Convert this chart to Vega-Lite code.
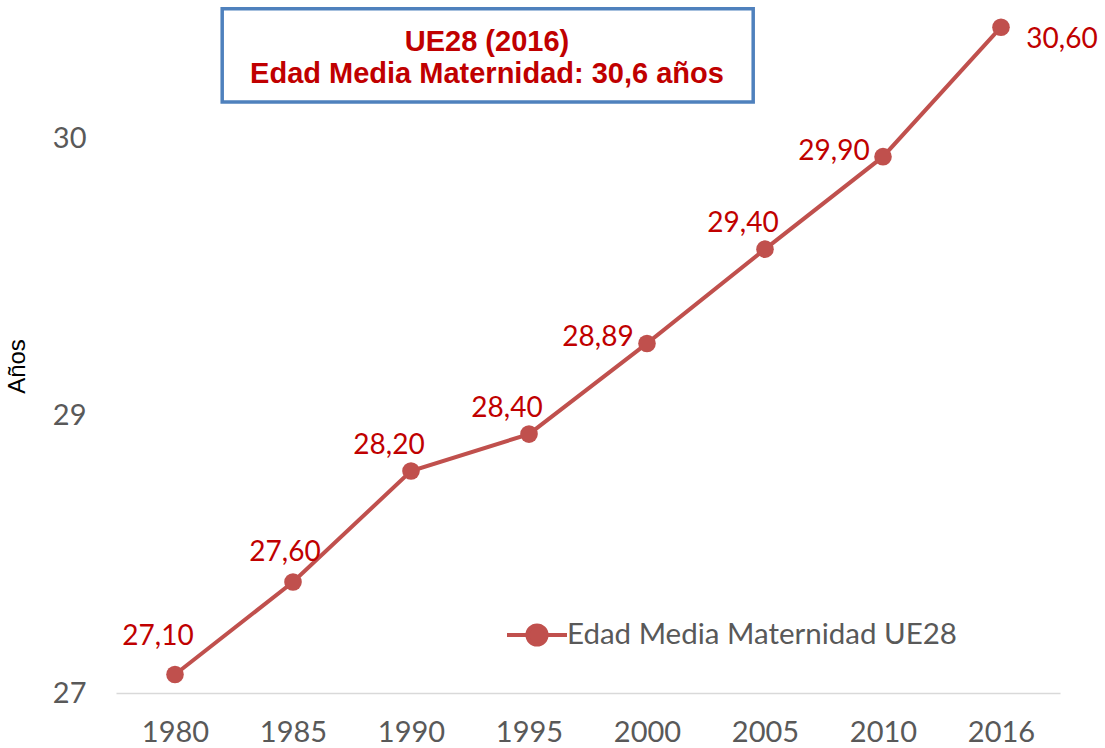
{
  "$schema": "https://vega.github.io/schema/vega-lite/v6.json",
  "width": 944,
  "height": 688,
  "autosize": {"type": "none"},
  "padding": {"left": 116, "top": 5, "right": 45, "bottom": 55},
  "background": "white",
  "config": {
    "view": {"stroke": null},
    "locale": {"number": {"decimal": ",", "thousands": ".", "grouping": [3], "currency": ["", " €"]}},
    "font": "Lato"
  },
  "datasets": {
    "serie": [
      {"year": "1980", "value": 27.10, "serie": "Edad Media Maternidad UE28"},
      {"year": "1985", "value": 27.60, "serie": "Edad Media Maternidad UE28"},
      {"year": "1990", "value": 28.20, "serie": "Edad Media Maternidad UE28"},
      {"year": "1995", "value": 28.40, "serie": "Edad Media Maternidad UE28"},
      {"year": "2000", "value": 28.89, "serie": "Edad Media Maternidad UE28"},
      {"year": "2005", "value": 29.40, "serie": "Edad Media Maternidad UE28"},
      {"year": "2010", "value": 29.90, "serie": "Edad Media Maternidad UE28"},
      {"year": "2016", "value": 30.60, "serie": "Edad Media Maternidad UE28"}
    ]
  },
  "layer": [
    {
      "data": {"name": "serie"},
      "encoding": {
        "x": {
          "field": "year", "type": "ordinal",
          "scale": {"type": "point", "padding": 0.5, "domain": ["1980", "1985", "1990", "1995", "2000", "2005", "2010", "2016"]},
          "axis": {
            "title": null, "labelAngle": 0, "labelFontSize": 29, "labelColor": "#595959", "labelPadding": 25,
            "ticks": false, "domainColor": "#D9D9D9", "domainWidth": 1.5, "grid": false, "labelFont": "Lato"
          }
        },
        "y": {
          "field": "value", "type": "quantitative",
          "scale": {"domain": [27, 30.72], "nice": false, "zero": false},
          "axis": {
            "title": "Años", "titleFontSize": 24, "titleFontWeight": "normal", "titleColor": "#000000", "titleFont": "Liberation Sans",
            "titleX": -99, "titleY": 361, "titleAlign": "center", "titleBaseline": "middle",
            "values": [27, 28.5, 30], "labelExpr": "round(datum.value)",
            "labelFontSize": 29, "labelColor": "#595959", "labelPadding": 30, "labelFont": "Lato",
            "ticks": false, "domain": false, "grid": false
          }
        }
      },
      "layer": [
        {
          "mark": {"type": "line", "strokeWidth": 4},
          "encoding": {
            "color": {
              "field": "serie", "type": "nominal",
              "scale": {"range": ["#C0504D"]},
              "legend": {
                "title": null, "orient": "none", "legendX": 389, "legendY": 598,
                "symbolType": "M-1,0L1,0M-0.32,0A0.32,0.32,0,1,1,0.32,0A0.32,0.32,0,1,1,-0.32,0Z",
                "symbolSize": 3600, "symbolStrokeWidth": 4, "symbolFillColor": "#C0504D", "symbolStrokeColor": "#C0504D",
                "labelFontSize": 29.5, "labelColor": "#595959", "labelFont": "Lato", "labelOffset": -2, "labelLimit": 600
              }
            }
          }
        },
        {
          "mark": {"type": "point", "filled": true, "size": 310, "opacity": 1, "color": "#C0504D"},
          "encoding": {}
        },
        {
          "transform": [{"filter": "datum.year == '1980'"}],
          "mark": {"type": "text", "fontSize": 28, "color": "#C00000", "align": "center", "baseline": "middle", "dx": -17, "dy": -38},
          "encoding": {"text": {"field": "value", "type": "quantitative", "format": ".2f"}}
        },
        {
          "transform": [{"filter": "datum.year == '1985'"}],
          "mark": {"type": "text", "fontSize": 28, "color": "#C00000", "align": "center", "baseline": "middle", "dx": -8, "dy": -29},
          "encoding": {"text": {"field": "value", "type": "quantitative", "format": ".2f"}}
        },
        {
          "transform": [{"filter": "datum.year == '1990' || datum.year == '1995' || datum.year == '2005'"}],
          "mark": {"type": "text", "fontSize": 28, "color": "#C00000", "align": "center", "baseline": "middle", "dx": -22, "dy": -25},
          "encoding": {"text": {"field": "value", "type": "quantitative", "format": ".2f"}}
        },
        {
          "transform": [{"filter": "datum.year == '2000' || datum.year == '2010'"}],
          "mark": {"type": "text", "fontSize": 28, "color": "#C00000", "align": "center", "baseline": "middle", "dx": -49, "dy": -5},
          "encoding": {"text": {"field": "value", "type": "quantitative", "format": ".2f"}}
        },
        {
          "transform": [{"filter": "datum.year == '2016'"}],
          "mark": {"type": "text", "fontSize": 28, "color": "#C00000", "align": "center", "baseline": "middle", "dx": 61, "dy": 13},
          "encoding": {"text": {"field": "value", "type": "quantitative", "format": ".2f"}}
        }
      ]
    },
    {
      "data": {"values": [{}]},
      "layer": [
        {
          "mark": {"type": "rect", "fill": "white", "stroke": "#4F81BD", "strokeWidth": 3.5},
          "encoding": {
            "x": {"datum": 0.9, "type": "quantitative", "scale": {"domain": [0, 8], "nice": false, "zero": false}, "axis": null},
            "x2": {"datum": 5.4},
            "y": {"datum": 30.70, "type": "quantitative"},
            "y2": {"datum": 30.195}
          }
        },
        {
          "mark": {"type": "text", "text": ["UE28 (2016)", "Edad Media Maternidad: 30,6 años"], "font": "Liberation Sans", "fontWeight": "bold", "fontSize": 29, "color": "#C00000", "align": "center", "baseline": "middle", "lineHeight": 32},
          "encoding": {
            "x": {"datum": 3.144, "type": "quantitative", "scale": {"domain": [0, 8], "nice": false, "zero": false}, "axis": null},
            "y": {"datum": 30.52, "type": "quantitative"}
          }
        }
      ]
    }
  ],
  "resolve": {"scale": {"x": "independent"}}
}
